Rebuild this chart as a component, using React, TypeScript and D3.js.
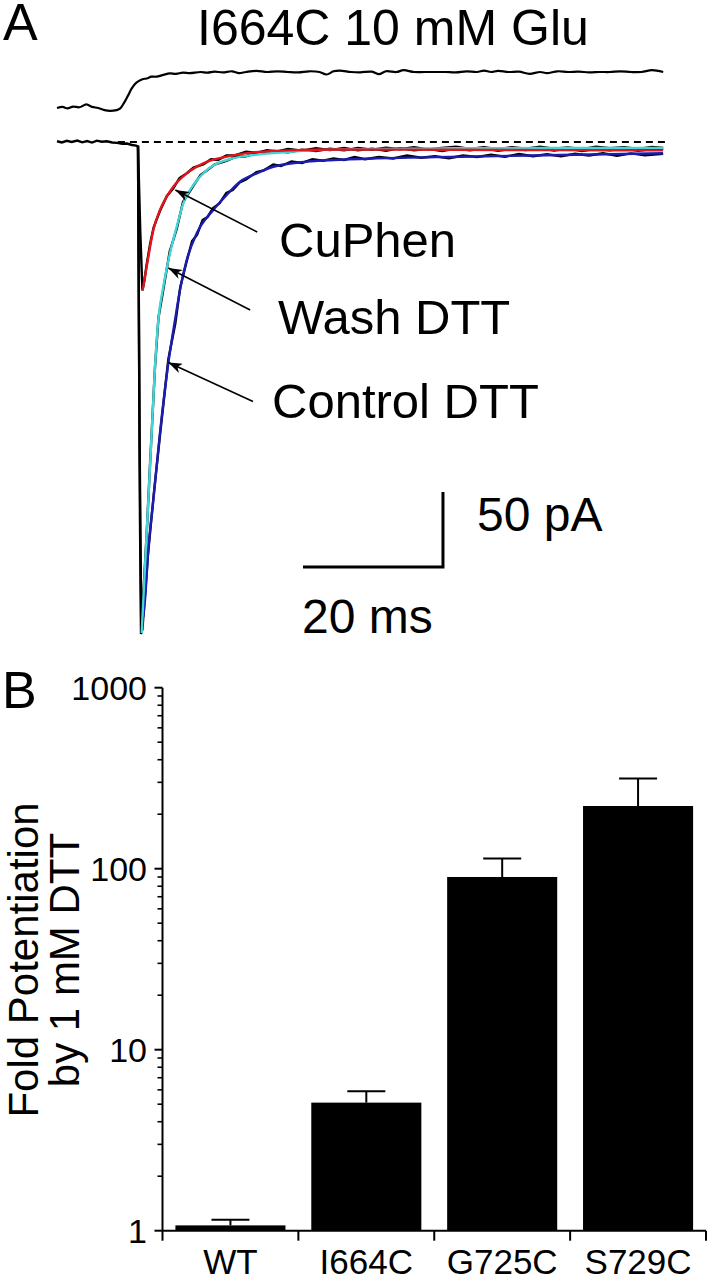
import React from "react";
import * as d3 from "d3";

// ---------- Panel A data (time in ms, current in pA) ----------
const TITLE = "I664C 10 mM Glu";
const TRACE_LABELS = ["CuPhen", "Wash DTT", "Control DTT"];
const SCALE_LABELS = ["50 pA", "20 ms"];

// solution exchange (junction potential) trace, normalised 0..1
const exchangeTrace: [number, number][] = [
  [0, 0.0], [0.8, 0.03], [1.5, -0.01], [2.3, 0.04], [3.2, 0.02], [4.2, 0.1], [5.0, 0.03], [5.9, 0.0],
  [6.8, -0.06], [7.6, -0.08], [8.5, -0.06], [9.0, -0.02], [9.6, 0.15], [10.1, 0.33], [10.7, 0.55],
  [11.3, 0.7], [12.2, 0.8], [12.8, 0.82], [13.5, 0.87], [14.2, 0.87], [15.2, 0.92], [16.1, 0.96],
  [17.0, 0.95], [18.0, 0.98], [19.0, 0.97], [20.5, 1.0], [21.5, 0.98], [22.5, 1.01], [23.7, 0.99],
  [25, 1.02], [26, 0.97], [27, 1.0], [28.5, 1.03], [30, 1.0], [31.5, 1.02], [33, 1.0], [34.5, 0.99],
  [36, 1.02], [37.5, 1.0], [38.5, 0.93], [39.5, 1.02], [40.4, 1.04], [42, 1.0], [43.3, 0.99],
  [45, 1.01], [46, 0.94], [47, 1.02], [48.5, 1.0], [49.5, 1.05], [51, 1.0], [52.5, 1.0], [54, 1.0],
  [55.5, 1.0], [57, 0.99], [58.5, 1.02], [60, 1.0], [61, 1.04], [62, 1.0], [63, 1.03], [64.5, 1.0],
  [66, 1.01], [67.5, 0.95], [69, 1.0], [70, 0.97], [71.5, 1.02], [73, 1.0], [74.5, 1.01], [76, 0.99],
  [77.5, 1.0], [79, 1.0], [80.5, 1.02], [82, 1.0], [83.5, 1.0], [85, 1.05], [86.6, 1.0],
];

// raw current records (black)
const rawControl: [number, number][] = [
  [0, 0.5], [0.7, -0.3], [1.4, 0.8], [2.1, 0.0], [2.9, 1.0], [3.6, -0.2], [4.3, 0.6], [5.0, -0.4],
  [5.7, 0.9], [6.4, 0.2], [7.1, 0.5], [7.9, -0.3], [8.6, -0.6], [9.3, -1.2], [10.0, -1.0],
  [10.7, -2.0], [11.3, -2.4], [11.57, -3.0], [11.7, -120], [11.85, -250], [12.0, -328],
  [12.2, -325], [12.6, -300], [13.0, -275], [13.8, -236], [14.7, -196], [15.9, -145], [16.9, -121],
  [17.6, -97], [18.5, -80], [19.3, -66], [20.0, -62], [20.8, -52], [21.5, -50], [22.3, -44],
  [23.2, -41], [24.2, -34], [25.1, -32], [26.1, -27], [27.0, -25], [28.5, -20], [29.5, -19],
  [30.9, -15], [32.0, -16], [33.5, -13], [35.0, -14], [36.5, -11.5], [38, -12.5], [39.5, -11],
  [41, -12], [42.5, -10], [44, -11.5], [46, -10], [48, -11], [50, -9], [52, -10.5], [54, -9.5],
  [56, -10.8], [58, -9], [60, -10], [62, -8.5], [64, -9.8], [66, -8], [68, -9.5], [70, -8.2],
  [72, -9.6], [74, -7.8], [76, -9], [78, -7.5], [80, -9.2], [82, -7.6], [84, -8.8], [86.6, -7.8],
];
const rawWash: [number, number][] = [
  [11.57, -2.5], [11.8, -200], [12.05, -327], [12.35, -300], [12.8, -262], [13.3, -214], [14.0, -150],
  [14.5, -117], [15.2, -98], [16.1, -73], [17.1, -58], [18.0, -40], [19.5, -29], [20.5, -22],
  [21.4, -19], [22.5, -15], [24.2, -12.5], [25.5, -10], [27, -9.5], [28, -8], [29.5, -7.5], [31, -6],
  [33, -6.8], [35, -5.2], [37, -6], [39, -4.5], [41, -5.6], [43, -4], [45, -5.2], [47, -3.8],
  [49, -4.8], [51, -3.5], [53, -5], [55, -4], [57, -3.2], [59, -4.6], [61, -3.5], [63, -4.8],
  [65, -3.4], [67, -4.5], [69, -3.2], [71, -4.4], [73, -3.6], [75, -4.8], [77, -3.1], [79, -4.2],
  [81, -3.5], [83, -4.6], [85, -3.3], [86.6, -4],
];
const rawCuPhen: [number, number][] = [
  [11.57, -2.5], [11.9, -60], [12.2, -99], [12.5, -92], [12.8, -82], [13.3, -68], [13.8, -57],
  [14.7, -46], [15.7, -36], [16.6, -31], [17.5, -24], [18.5, -21], [19.5, -17], [20.9, -15],
  [22, -11.5], [23, -12], [24.2, -9], [25.5, -8.8], [27, -6.5], [28.5, -7.2], [30, -5.5], [31.5, -6.3],
  [33, -4.6], [35, -5.8], [37, -4.2], [39, -5.4], [41, -4], [43, -5.6], [45, -4.4], [47, -5.8],
  [49, -4.1], [51, -5.5], [53, -4.6], [55, -6], [57, -4.3], [59, -5.6], [61, -4.2], [63, -5.9],
  [65, -4.5], [67, -5.3], [69, -4], [71, -5.7], [73, -4.4], [75, -6.1], [77, -4.6], [79, -5.5],
  [81, -4.2], [83, -5.8], [85, -4.7], [86.6, -5.2],
];

// exponential fits (coloured)
const fitCuPhen: [number, number][] = [
  [12.24, -98.7], [12.81, -83.1], [13.76, -58.7], [14.71, -45.3], [15.67, -36.5], [16.61, -29.8],
  [18.53, -20.9], [20.9, -14.2], [24.24, -9.8], [28.04, -6.9], [33.29, -5.6], [40.43, -5.0],
  [56.1, -5.2], [71.86, -5.4], [86.57, -5.6],
];
const fitWash: [number, number][] = [
  [12.1, -327.3], [12.33, -305.3], [12.81, -260.9], [13.29, -216.5], [14.0, -149.8], [14.47, -118.7],
  [15.19, -96.5], [16.14, -74.2], [17.1, -56.5], [18.04, -40.9], [19.47, -28.7], [21.39, -18.7],
  [24.24, -12], [28.04, -8.7], [33.29, -6.5], [40.43, -4.9], [56.14, -4.2], [71.86, -4.0],
  [86.57, -3.9],
];
const fitControl: [number, number][] = [
  [12.33, -316.5], [12.57, -305.3], [13.04, -272], [13.76, -238.7], [14.71, -194], [15.9, -147.5],
  [16.86, -118.7], [17.57, -98.7], [18.53, -78.7], [19.96, -60.9], [22.33, -45.3], [24.24, -35.3],
  [26.14, -26.5], [28.53, -20.9], [30.9, -16.5], [35.67, -13.1], [39.47, -12], [45.67, -10.9],
  [57.57, -9.8], [71.86, -8.7], [86.57, -7.5],
];

// ---------- Panel B data ----------
const CATEGORIES = ["WT", "I664C", "G725C", "S729C"];
const FOLD_MEAN = [1.07, 5.1, 90, 222];
const FOLD_ERR_TOP = [1.15, 5.9, 114, 315];
const Y_TICKS = [1, 10, 100, 1000];
const Y_TICK_LABELS = ["1", "10", "100", "1000"];
const Y_LABEL_LINES = ["Fold Potentiation", "by 1 mM DTT"];

const FONT = "'Liberation Sans', Arial, Helvetica, sans-serif";

export default function App() {
  // Panel A scales
  const xT = d3.scaleLinear().domain([0, 87]).range([57, 666]);
  const yI = d3.scaleLinear().domain([0, -330]).range([142, 637]);
  const yEx = d3.scaleLinear().domain([0, 1]).range([108, 72]);

  const rawLine = d3.line<[number, number]>().x((d) => xT(d[0])).y((d) => yI(d[1]));
  const fitLine = d3
    .line<[number, number]>()
    .x((d) => xT(d[0]))
    .y((d) => yI(d[1]))
    .curve(d3.curveMonotoneX);
  const exLine = d3
    .line<[number, number]>()
    .x((d) => xT(d[0]))
    .y((d) => yEx(d[1]))
    .curve(d3.curveCatmullRom);

  // arrows (tip/tail in data units)
  const arrows = [
    { tail: [28.6, -60], tip: [16.9, -32], labelX: 279, labelY: 257 },
    { tail: [27.6, -112], tip: [15.9, -84], labelX: 278, labelY: 334 },
    { tail: [28.0, -173], tip: [15.9, -147], labelX: 272, labelY: 418 },
  ];

  // scale bar: 20 ms x 50 pA
  const sbT = 55.14;
  const sbI = -283.3;
  const sbX1 = xT(sbT);
  const sbX0 = xT(sbT - 20);
  const sbY = yI(sbI);
  const sbYTop = yI(sbI + 50);

  // Panel B scales
  const y = d3.scaleLog().domain([1, 1000]).range([1230.7, 687.7]);
  const x = d3
    .scaleBand<string>()
    .domain(CATEGORIES)
    .range([162.5, 706])
    .paddingInner(0.19)
    .paddingOuter(0.095);
  const step = x.step();
  const minorTicks: number[] = [];
  [1, 10, 100].forEach((dec) => {
    for (let k = 2; k <= 9; k++) minorTicks.push(dec * k);
  });
  const axisLeft = 162.5;
  const axisRight = 706;

  return (
    <svg
      width={708}
      height={1280}
      viewBox="0 0 708 1280"
      style={{ position: "absolute", left: 0, top: 0, display: "block", background: "#fff" }}
      fontFamily={FONT}
    >
      <defs>
        <marker
          id="arrowhead"
          viewBox="0 0 14 10"
          refX={14}
          refY={5}
          markerWidth={14}
          markerHeight={10}
          markerUnits="userSpaceOnUse"
          orient="auto"
        >
          <path d="M0,0 L14,5 L0,10 L4,5 Z" fill="#000" />
        </marker>
      </defs>

      {/* Panel A */}
      <text x={3} y={40} fontSize={52}>A</text>
      <text x={197} y={45} fontSize={50}>{TITLE}</text>

      <path d={exLine(exchangeTrace) || ""} fill="none" stroke="#000" strokeWidth={2.2} />

      <line
        x1={xT(8.7)}
        x2={xT(87)}
        y1={yI(0)}
        y2={yI(0)}
        stroke="#000"
        strokeWidth={1.8}
        strokeDasharray="7,5"
      />

      <path d={rawLine(rawWash) || ""} fill="none" stroke="#000" strokeWidth={2.4} />
      <path d={rawLine(rawCuPhen) || ""} fill="none" stroke="#000" strokeWidth={2.4} />
      <path d={rawLine(rawControl) || ""} fill="none" stroke="#000" strokeWidth={2.4} />

      <path d={fitLine(fitControl) || ""} fill="none" stroke="#1c1cb4" strokeWidth={2.4} />
      <path d={fitLine(fitWash) || ""} fill="none" stroke="#42d6d8" strokeWidth={2.4} />
      <path d={fitLine(fitCuPhen) || ""} fill="none" stroke="#e3141c" strokeWidth={2.4} />

      {arrows.map((a, i) => (
        <g key={TRACE_LABELS[i]}>
          <line
            x1={xT(a.tail[0])}
            y1={yI(a.tail[1])}
            x2={xT(a.tip[0])}
            y2={yI(a.tip[1])}
            stroke="#000"
            strokeWidth={1.6}
            markerEnd="url(#arrowhead)"
          />
          <text x={a.labelX} y={a.labelY} fontSize={49}>{TRACE_LABELS[i]}</text>
        </g>
      ))}

      {/* scale bar */}
      <path
        d={`M${sbX0},${sbY} H${sbX1} V${sbYTop}`}
        fill="none"
        stroke="#000"
        strokeWidth={3}
      />
      <text x={477} y={531} fontSize={48}>{SCALE_LABELS[0]}</text>
      <text x={302} y={633} fontSize={48}>{SCALE_LABELS[1]}</text>

      {/* Panel B */}
      <text x={2} y={708} fontSize={52}>B</text>

      {/* bars */}
      {CATEGORIES.map((c, i) => {
        const bx = x(c) as number;
        const bw = x.bandwidth();
        const cx = bx + bw / 2;
        return (
          <g key={c}>
            <rect x={bx} y={y(FOLD_MEAN[i])} width={bw} height={y(1) - y(FOLD_MEAN[i])} fill="#000" />
            <line x1={cx} x2={cx} y1={y(FOLD_MEAN[i])} y2={y(FOLD_ERR_TOP[i])} stroke="#000" strokeWidth={2} />
            <line x1={cx - 19} x2={cx + 19} y1={y(FOLD_ERR_TOP[i])} y2={y(FOLD_ERR_TOP[i])} stroke="#000" strokeWidth={2} />
            <text x={cx} y={1274} fontSize={35} textAnchor="middle">{c}</text>
          </g>
        );
      })}

      {/* y axis */}
      <line x1={axisLeft} x2={axisLeft} y1={y(1000)} y2={y(1)} stroke="#000" strokeWidth={2} />
      {Y_TICKS.map((t, i) => (
        <g key={t}>
          <line x1={axisLeft - 8} x2={axisLeft} y1={y(t)} y2={y(t)} stroke="#000" strokeWidth={2} />
          <text x={147} y={y(t) + 12} fontSize={34} textAnchor="end">{Y_TICK_LABELS[i]}</text>
        </g>
      ))}
      {minorTicks.map((t) => (
        <line key={t} x1={axisLeft - 5} x2={axisLeft} y1={y(t)} y2={y(t)} stroke="#000" strokeWidth={1.6} />
      ))}

      {/* x axis */}
      <line x1={axisLeft} x2={axisRight} y1={y(1)} y2={y(1)} stroke="#000" strokeWidth={2} />
      {d3.range(CATEGORIES.length + 1).map((k) => (
        <line
          key={k}
          x1={axisLeft + k * step}
          x2={axisLeft + k * step}
          y1={y(1)}
          y2={y(1) + 10}
          stroke="#000"
          strokeWidth={2}
        />
      ))}

      {/* y label */}
      <g transform={`translate(38, 960) rotate(-90)`}>
        <text x={0} y={0} fontSize={42} textAnchor="middle">{Y_LABEL_LINES[0]}</text>
      </g>
      <g transform={`translate(79, 960) rotate(-90)`}>
        <text x={0} y={0} fontSize={42} textAnchor="middle">{Y_LABEL_LINES[1]}</text>
      </g>
    </svg>
  );
}
